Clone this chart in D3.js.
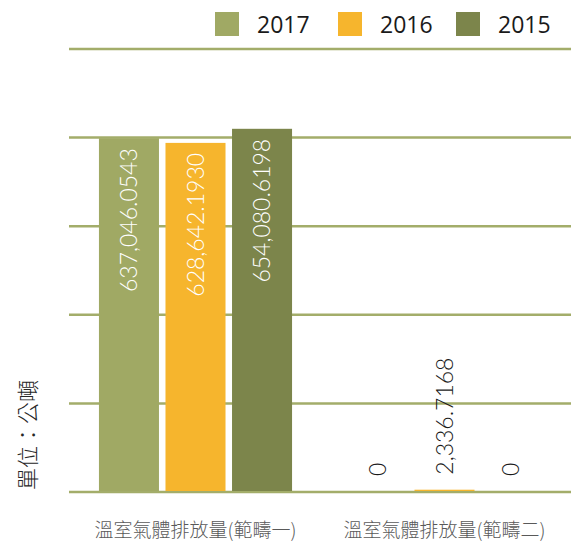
<!DOCTYPE html>
<html><head><meta charset="utf-8">
<script src="https://cdn.jsdelivr.net/npm/d3@7"></script>
<style>body{margin:0;background:#fff}svg{display:block}</style>
</head><body>
<svg id="c" width="571" height="543"></svg>
<script>
const categories = ["溫室氣體排放量(範疇一)", "溫室氣體排放量(範疇二)"];
const years = ["2017", "2016", "2015"];
const values2017 = [637046.0543, 0];
const values2016 = [628642.1930, 2336.7168];
const values2015 = [654080.6198, 0];
const labels2017 = ["637,046.0543", "0"];
const labels2016 = ["628,642.1930", "2,336.7168"];
const labels2015 = ["654,080.6198", "0"];
const yTicks = [0, 160000, 320000, 480000, 640000, 800000];
const yTitle = "單位：公噸";
const colors = {"2017": "#a0a964", "2016": "#f6b52d", "2015": "#7c854b"};

const seriesVals = {"2017": values2017, "2016": values2016, "2015": values2015};
const seriesLabels = {"2017": labels2017, "2016": labels2016, "2015": labels2015};

const svg = d3.select("#c");
const plot = {left: 69, right: 571, top: 49, bottom: 492};

const x0 = d3.scaleBand().domain(categories).range([71, 569]).padding(0);
const x1 = d3.scaleBand().domain(years).range([0, x0.bandwidth()]).paddingInner(0.098).paddingOuter(0.42);
const y = d3.scaleLinear().domain([0, 800000]).range([plot.bottom, plot.top]);

// gridlines
svg.append("g").selectAll("line").data(yTicks).join("line")
  .attr("x1", plot.left).attr("x2", plot.right)
  .attr("y1", d => y(d)).attr("y2", d => y(d))
  .attr("stroke", "#a3ad6a").attr("stroke-width", 2.5);

const data = [];
categories.forEach((c, i) => years.forEach(yr => data.push({c, yr, v: seriesVals[yr][i], label: seriesLabels[yr][i]})));

svg.append("g").selectAll("rect").data(data).join("rect")
  .attr("x", d => x0(d.c) + x1(d.yr))
  .attr("width", x1.bandwidth())
  .attr("y", d => y(d.v) - 1)
  .attr("height", d => y(0) - y(d.v))
  .attr("fill", d => colors[d.yr]);

// value labels
svg.append("g").selectAll("text").data(data).join("text")
  .attr("transform", d => {
    const cx = x0(d.c) + x1(d.yr) + x1.bandwidth() / 2 - 1;
    const inside = (y(0) - y(d.v)) > 200;
    const ty = inside ? y(d.v) + 9 : y(d.v) - 16;
    return `translate(${cx},${ty}) rotate(-90)`;
  })
  .attr("text-anchor", d => (y(0) - y(d.v)) > 200 ? "end" : "start")
  .attr("dominant-baseline", "central")
  .attr("font-family", "Lato, 'Open Sans', sans-serif")
  .attr("font-weight", 300)
  .attr("font-size", 23)
  .attr("fill", d => (y(0) - y(d.v)) > 200 ? "#ffffff" : "#1a1a1a")
  .text(d => d.label);

// category axis labels
svg.append("g").selectAll("text").data(categories).join("text")
  .attr("x", d => x0(d) + x0.bandwidth() / 2)
  .attr("y", 537)
  .attr("text-anchor", "middle")
  .attr("font-family", "'Noto Sans CJK TC', sans-serif")
  .attr("font-weight", 300)
  .attr("font-size", 19)
  .attr("fill", "#595959")
  .text(d => d);

// y title
svg.append("text")
  .attr("transform", "translate(26,435) rotate(-90)")
  .attr("text-anchor", "middle")
  .attr("dominant-baseline", "central")
  .attr("font-family", "'Noto Sans CJK TC', sans-serif")
  .attr("font-weight", 300)
  .attr("font-size", 22)
  .attr("fill", "#262626")
  .text(yTitle);

// legend
const legendX = [215, 338, 456];
const lg = svg.append("g").selectAll("g").data(years).join("g")
  .attr("transform", (d, i) => `translate(${legendX[i]},12)`);
lg.append("rect").attr("width", 24).attr("height", 24).attr("fill", d => colors[d]);
lg.append("text").attr("x", 42).attr("y", 21)
  .attr("font-family", "'Open Sans', sans-serif").attr("font-size", 23)
  .attr("fill", "#1a1a1a").text(d => d);
</script>
</body></html>
